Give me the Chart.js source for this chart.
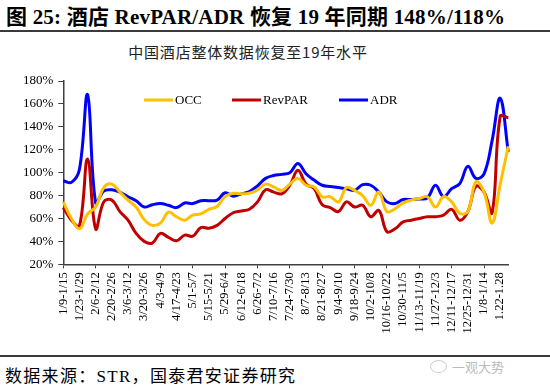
<!DOCTYPE html>
<html>
<head>
<meta charset="utf-8">
<script src="https://cdn.jsdelivr.net/npm/chart.js@4.4.0/dist/chart.umd.min.js"></script>
<style>
  body { margin: 0; width: 550px; height: 392px; position: relative; overflow: hidden; background: #fff;
         font-family: "Liberation Serif", "Noto Sans CJK SC", serif; color: #000; }
  .fig-title { position: absolute; left: 6px; top: 5px; font-size: 21px; line-height: 24px; font-weight: bold; white-space: nowrap; letter-spacing: 0.2px; }
  .rule { position: absolute; left: 0; width: 550px; height: 2px; background: #3a3a3a; }
  .chart-title { position: absolute; left: 0; top: 44px; width: 496px; text-align: center; font-size: 15px; line-height: 16px;
                 letter-spacing: 0.8px; font-family: "Noto Sans CJK SC", sans-serif; color: #222; }
  #wrap { position: absolute; left: 0; top: 36px; width: 550px; height: 312px; }
  .source { position: absolute; left: 5px; top: 367px; font-size: 17px; line-height: 20px; letter-spacing: 1.3px; white-space: nowrap; }
  .mark { position: absolute; left: 430px; top: 359px; font-size: 13px; line-height: 16px; color: #bbb;
          font-family: "Noto Sans CJK SC", sans-serif; white-space: nowrap; }
  .mark i { display: inline-block; width: 15px; height: 11px; border: 1px solid #ccc; border-radius: 50%; margin-right: 5px; vertical-align: -1px; }
</style>
</head>
<body>
<div class="fig-title">图 25: 酒店 RevPAR/ADR 恢复 19 年同期 148%/118%</div>
<div class="rule" style="top:30px"></div>
<div class="chart-title">中国酒店整体数据恢复至19年水平</div>
<div id="wrap"><canvas id="hotelChart" width="550" height="312"></canvas></div>
<div class="rule" style="top:355px"></div>
<div class="source">数据来源：STR，国泰君安证券研究</div>
<div class="mark"><i></i>一观大势</div>

<script>
// weekly periods, labelled every other week on the axis
const weeks = [
  '1/9-1/15', '1/16-1/22', '1/23-1/29', '1/30-2/5', '2/6-2/12', '2/13-2/19', '2/20-2/26', '2/27-3/5',
  '3/6-3/12', '3/13-3/19', '3/20-3/26', '3/27-4/2', '4/3-4/9', '4/10-4/16', '4/17-4/23', '4/24-4/30',
  '5/1-5/7', '5/8-5/14', '5/15-5/21', '5/22-5/28', '5/29-6/4', '6/5-6/11', '6/12-6/18', '6/19-6/25',
  '6/26-7/2', '7/3-7/9', '7/10-7/16', '7/17-7/23', '7/24-7/30', '7/31-8/6', '8/7-8/13', '8/14-8/20',
  '8/21-8/27', '8/28-9/3', '9/4-9/10', '9/11-9/17', '9/18-9/24', '9/25-10/1', '10/2-10/8', '10/9-10/15',
  '10/16-10/22', '10/23-10/29', '10/30-11/5', '11/6-11/12', '11/13-11/19', '11/20-11/26', '11/27-12/3', '12/4-12/10',
  '12/11-12/17', '12/18-12/24', '12/25-12/31', '1/1-1/7', '1/8-1/14', '1/15-1/21', '1.22-1.28', '1/29-2/4'
];

// recovery vs same week of 2019, %
const occ = [
  74.5, 60, 51, 64, 70, 87, 90, 83, 76, 70, 59, 54, 56, 65.5, 61.5, 58.5,
  63, 64, 68, 70.5, 79, 82, 81.5, 82, 85, 90, 87.5, 84.5, 90, 95, 89, 87.5,
  79, 79, 74.5, 87, 84.5, 80, 71.5, 83, 66, 68.5, 73.5, 76, 77.5, 79, 70, 79,
  74.5, 64.5, 66, 92, 83, 56, 90, 123
];
const revpar = [
  69.5, 58.5, 53.5, 112, 51, 74.5, 76, 66, 58.5, 47, 40, 38.5, 47, 43.5, 40.5, 45.5,
  44.5, 52, 51.5, 54, 60, 65, 66.5, 68, 74.5, 85, 83, 81.5, 89, 102, 90, 86,
  72, 69.5, 66, 74.5, 70, 71.5, 61.5, 67, 48.5, 51, 57, 58.5, 60, 61.5, 61.5, 63,
  68, 58.5, 66, 88, 83, 65, 149, 148
];
const adr = [
  93, 91.5, 103, 168, 73.5, 84, 85, 83, 79, 75.5, 70, 72, 73, 71.5, 69.5, 73.5,
  73, 75.5, 75.5, 76, 82.5, 79.5, 81.5, 83.5, 88.5, 95, 97.5, 98.5, 100, 108, 99, 93.5,
  89, 88, 87, 86, 84.5, 89.5, 89, 83, 74.5, 73, 76.5, 76.5, 77, 78, 89, 79,
  86, 90.5, 105.5, 95, 99, 128, 165, 118
];

const AXIS = '#404040';

// legend drawn inside the plot, like the original
const legendX = [144, 232, 339];
const insideLegend = {
  id: 'insideLegend',
  afterDatasetsDraw(chart) {
    const ctx = chart.ctx;
    const y = chart.chartArea.top + 19;
    ctx.save();
    ctx.font = '13px "Liberation Serif", serif';
    ctx.textBaseline = 'middle';
    ctx.fillStyle = '#000';
    chart.data.datasets.forEach((ds, i) => {
      const x = legendX[i];
      ctx.strokeStyle = ds.borderColor;
      ctx.lineWidth = 3;
      ctx.beginPath();
      ctx.moveTo(x, y);
      ctx.lineTo(x + 29, y);
      ctx.stroke();
      ctx.fillText(ds.label, x + 31, y + 1);
    });
    ctx.restore();
  }
};

const line = (label, data, color) => ({
  label, data,
  borderColor: color, backgroundColor: color,
  borderWidth: 3, pointRadius: 0, tension: 0.4, fill: false
});

new Chart(document.getElementById('hotelChart'), {
  type: 'line',
  data: {
    labels: weeks,
    datasets: [
      line('OCC', occ, '#FFC000'),
      line('RevPAR', revpar, '#C00000'),
      line('ADR', adr, '#0000FF')
    ]
  },
  options: {
    responsive: false,
    animation: false,
    devicePixelRatio: 1,
    layout: { padding: { top: 45, right: 41.7, left: 0, bottom: 0 } },
    plugins: { legend: { display: false }, tooltip: { enabled: false } },
    scales: {
      x: {
        offset: false,
        afterFit: s => { s.height = 83.7; },
        border: { display: true, color: AXIS, width: 1.5 },
        grid: {
          drawOnChartArea: false,
          tickLength: 4,
          color: c => (c.index % 4 === 0 ? AXIS : 'rgba(0,0,0,0)')
        },
        ticks: {
          autoSkip: false, minRotation: 90, maxRotation: 90, padding: 4,
          color: '#000', font: { family: '"Liberation Serif", serif', size: 12.5 },
          callback: (v, i) => (i % 2 === 0 ? weeks[i] : '')
        }
      },
      y: {
        min: 20, max: 180,
        afterFit: s => { s.width = 63.3; },
        border: { display: true, color: AXIS, width: 1.5 },
        grid: { drawOnChartArea: false, tickLength: 5, color: AXIS },
        ticks: {
          stepSize: 20, padding: 5, color: '#000',
          font: { family: '"Liberation Serif", serif', size: 13 },
          callback: v => v + '%'
        }
      }
    }
  },
  plugins: [insideLegend]
});
</script>
</body>
</html>
